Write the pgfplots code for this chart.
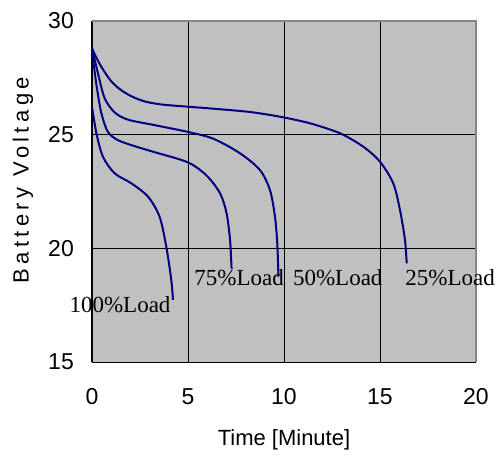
\documentclass[border=0pt]{standalone}
\usepackage{fontspec}
\setmainfont{Liberation Sans}
\newfontfamily\serif{Liberation Serif}
\usepackage{pgfplots}
\pgfplotsset{compat=1.18}
\definecolor{bggray}{HTML}{C0C0C0}
\definecolor{framegray}{HTML}{858585}
\definecolor{curve}{HTML}{000080}
\begin{document}
\begin{tikzpicture}
\begin{axis}[
  scale only axis,
  width=384pt, height=341pt,
  xmin=0, xmax=20, ymin=15, ymax=30,
  xtick={0,5,10,15,20}, ytick={15,20,25,30},
  axis x line*=bottom, axis y line*=left,
  axis line style={black, line width=1pt, -},
  axis background/.style={fill=bggray},
  grid=major,
  major grid style={black, line width=0.8pt},
  tick style={black, line width=0.8pt},
  major tick length=7pt,
  tick align=inside,
  /pgf/number format/assume math mode=true,
  tick label style={font=\fontsize{23}{27}\selectfont},
  xticklabel style={anchor=center, inner sep=0pt, yshift=-35pt},
  yticklabel style={anchor=east, inner sep=0pt, xshift=-18pt},
  xlabel={Time [Minute]},
  ylabel={\addfontfeature{LetterSpace=20}Battery Voltage},
  label style={font=\fontsize{22}{26}\selectfont},
  xlabel style={at={(axis description cs:0.5,-0.2287)}, anchor=center},
  ylabel style={at={(axis description cs:-0.18,0.533)}, anchor=center},
  clip=false,
]
% 25% load
\addplot[curve, line width=2pt, smooth] coordinates {
(0,28.8) (0.25,28.35) (0.55,27.9) (1.0,27.35) (1.5,26.97) (2.1,26.67) (2.8,26.45) (3.7,26.32) (5.0,26.23) (6.5,26.13) (8.2,26.0) (9.79,25.79) (11.35,25.5) (12.92,25.06) (14.13,24.47) (15.0,23.81) (15.69,22.86) (16.04,21.69) (16.3,20.37) (16.39,19.34)
};
% 50% load
\addplot[curve, line width=2pt, smooth] coordinates {
(0,28.8) (0.31,27.7) (0.66,26.6) (1.18,25.98) (1.875,25.66) (3.26,25.42) (5.0,25.12) (6.32,24.82) (7.71,24.18) (8.75,23.44) (9.27,22.56) (9.53,21.39) (9.65,20.22) (9.71,18.75)
};
% 75% load
\addplot[curve, line width=2pt, smooth] coordinates {
(0,28.7) (0.23,27.2) (0.49,25.94) (0.83,25.12) (1.35,24.76) (2.2,24.5) (3.3,24.22) (5.0,23.78) (5.97,23.2) (6.67,22.42) (7.01,21.54) (7.19,20.37) (7.27,19.1)
};
% 100% load
\addplot[curve, line width=2pt, smooth] coordinates {
(0,26.23) (0.23,25.06) (0.57,24.03) (1.18,23.3) (2.05,22.86) (2.92,22.27) (3.52,21.39) (3.87,20.07) (4.13,18.6) (4.22,17.73)
};
\draw[framegray, line width=2pt] (rel axis cs:0,1) -- (rel axis cs:1,1) -- (rel axis cs:1,0);
\begin{scope}[every node/.style={font=\serif\fontsize{23}{27}\selectfont, inner sep=0pt, anchor=center}]
\node at (axis cs:1.46,17.5) {100\%Load};
\node at (axis cs:7.66,18.69) {75\%Load};
\node at (axis cs:12.8,18.69) {50\%Load};
\node at (axis cs:18.65,18.69) {25\%Load};
\end{scope}
\end{axis}
\pgfresetboundingbox
\path (-92pt,-99pt) rectangle (404pt,362pt);
\end{tikzpicture}
\end{document}
